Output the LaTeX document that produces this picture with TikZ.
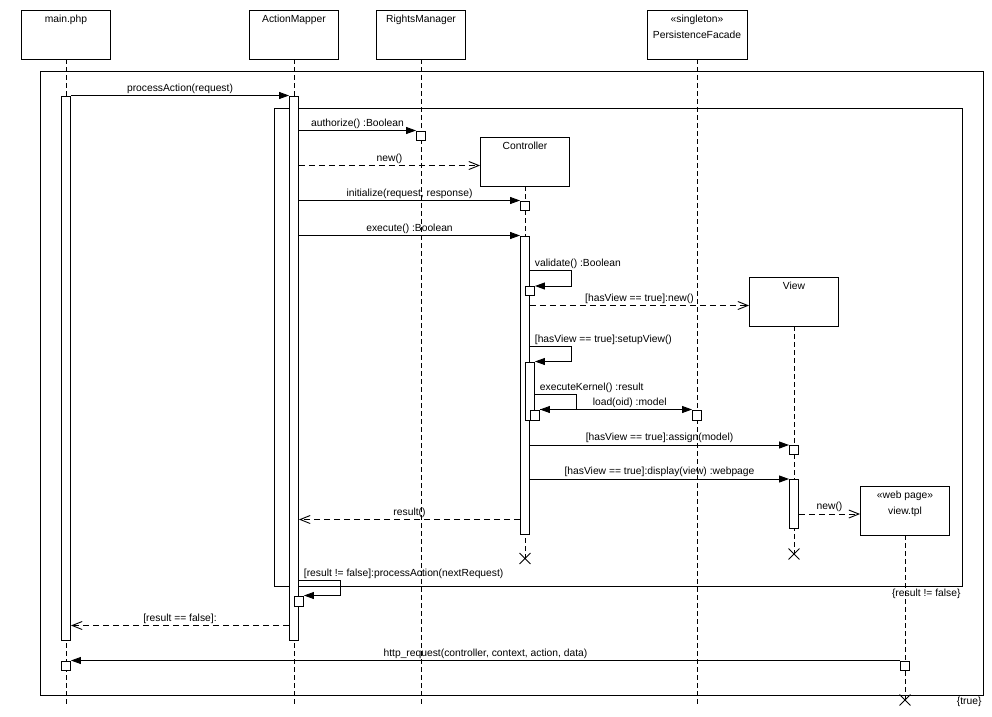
\documentclass[tikz,border=0pt]{standalone}
\usepackage{fontspec}
\setmainfont{Liberation Sans}
\usetikzlibrary{arrows.meta,shapes.misc}
\begin{document}
\begin{tikzpicture}[x=1pt,y=-1pt, line width=0.9pt, font=\fontsize{10.3}{12}\selectfont,
  head/.style={draw, fill=white, minimum width=89pt, minimum height=49pt, inner sep=0},
  hl/.style={anchor=base, inner sep=0},
  act/.style={draw, fill=white, minimum width=9pt, inner sep=0, anchor=north},
  life/.style={dash pattern=on 5pt off 3pt},
  msg/.style={-{Triangle[length=10pt,width=7pt]}},
  ret/.style={dash pattern=on 6pt off 4pt, -{Straight Barb[length=10pt,width=8pt]}},
  ml/.style={midway, anchor=base, yshift=4.5pt, inner sep=0},
  sl/.style={pos=0, anchor=base west, xshift=4.5pt, yshift=4pt, inner sep=0},
  kill/.style={draw, cross out, minimum size=10pt, inner sep=0},
  frm/.style={draw, inner sep=0, anchor=north west},
  flbl/.style={anchor=north east, inner sep=1.5pt}]
\useasboundingbox (0,0) rectangle (992,716);
% frames
\node[frm, minimum width=943pt, minimum height=624pt] (outerF) at (39.5,70.5) {};
\node[frm, minimum width=688pt, minimum height=478.5pt] (innerF) at (273.5,107.5) {};
\node[flbl] (innerL) at (innerF.south east) {\{result != false\}};
\node[flbl] (outerL) at (outerF.south east) {\{true\}};
% heads
\node[head] (main) at (66,34.5) {};
\node[hl] (mainT) at ([yshift=-13pt]main.north) {main.php};
\node[head] (am) at (294,34.5) {};
\node[hl] (amT) at ([yshift=-13pt]am.north) {ActionMapper};
\node[head] (rm) at (421,34.5) {};
\node[hl] (rmT) at ([yshift=-13pt]rm.north) {RightsManager};
\node[head, minimum width=100pt] (pf) at (697,34.5) {};
\node[hl] (pfS) at ([yshift=-13pt]pf.north) {«singleton»};
\node[hl] (pfT) at ([yshift=-29pt]pf.north) {PersistenceFacade};
\node[head] (ctl) at (525,161.5) {};
\node[hl] (ctlT) at ([yshift=-13pt]ctl.north) {Controller};
\node[head] (view) at (794,301.5) {};
\node[hl] (viewT) at ([yshift=-13pt]view.north) {View};
\node[head] (tpl) at (905,510.5) {};
\node[hl] (tplS) at ([yshift=-13pt]tpl.north) {«web page»};
\node[hl] (tplT) at ([yshift=-29pt]tpl.north) {view.tpl};
% ends
\coordinate (mainEnd) at (66,705);
\coordinate (amEnd) at (294,705);
\coordinate (rmEnd) at (421,705);
\coordinate (pfEnd) at (697,705);
\node[kill] (ctlX) at (525,558.5) {};
\node[kill] (viewX) at (794,554) {};
\node[kill] (tplX) at (905,700) {};
% lifelines
\draw[life] (main.south) -- (mainEnd);
\draw[life] (am.south) -- (amEnd);
\draw[life] (rm.south) -- (rmEnd);
\draw[life] (pf.south) -- (pfEnd);
\draw[life] (ctl.south) -- (ctlX.center);
\draw[life] (view.south) -- (viewX.center);
\draw[life] (tpl.south) -- (tplX.center);
% activations
\node[act, minimum height=544pt] (mainBar) at (66,95.5) {};
\node[act, minimum height=9pt] (mainBox2) at (66,660.5) {};
\node[act, minimum height=544pt] (amBar) at (294,95.5) {};
\node[act, minimum height=10pt] (amBox2) at (299,595.5) {};
\node[act, minimum height=9pt] (rmBox) at (421,130.5) {};
\node[act, minimum height=9.5pt] (ctlBox1) at (525,200.5) {};
\node[act, minimum height=298pt] (ctlBar) at (525,235.5) {};
\node[act, minimum height=9pt] (ctlBox2) at (530,286) {};
\node[act, minimum height=58pt] (ctlBar2) at (530,361.5) {};
\node[act, minimum height=10pt] (ctlBox3) at (535,409.5) {};
\node[act, minimum height=10pt] (pfBox) at (697,409.5) {};
\node[act, minimum height=8.5pt] (viewBox1) at (794,445) {};
\node[act, minimum height=49pt] (viewBar) at (794,479) {};
\node[act, minimum height=9pt] (tplBox) at (905,660.5) {};
% messages
\draw[msg] (mainBar.north east) -- node[ml]{processAction(request)} (amBar.north west);
\draw[msg] (amBar.east |- rmBox.north) -- node[ml]{authorize() :Boolean} (rmBox.north west);
\coordinate (c1) at ([yshift=-4pt]ctl.west);
\draw[ret] (amBar.east |- c1) -- node[ml]{new()} (c1);
\draw[msg] (amBar.east |- ctlBox1.north) -- node[ml]{initialize(request, response)} (ctlBox1.north west);
\draw[msg] (amBar.east |- ctlBar.north) -- node[ml]{execute() :Boolean} (ctlBar.north west);
\draw[msg] (ctlBar.east |- 0,270.5) -| node[sl]{validate() :Boolean} ([xshift=36pt]ctlBox2.north east) -- (ctlBox2.north east);
\coordinate (c2) at ([yshift=-4pt]view.west);
\draw[ret] (ctlBar.east |- c2) -- node[ml]{[hasView == true]:new()} (c2);
\draw[msg] (ctlBar.east |- 0,346.5) -| node[sl]{[hasView == true]:setupView()} ([xshift=36pt]ctlBar2.north east) -- (ctlBar2.north east);
\draw[msg] (ctlBar2.east |- 0,394.5) -| node[sl]{executeKernel() :result} ([xshift=36pt]ctlBox3.north east) -- (ctlBox3.north east);
\draw[msg] (ctlBox3.north east) -- node[ml, pos=0.59]{load(oid) :model} (pfBox.north west);
\draw[msg] (ctlBar.east |- viewBox1.north) -- node[ml]{[hasView == true]:assign(model)} (viewBox1.north west);
\draw[msg] (ctlBar.east |- viewBar.north) -- node[ml]{[hasView == true]:display(view) :webpage} (viewBar.north west);
\coordinate (c3) at ([yshift=-3.5pt]tpl.west);
\draw[ret] (viewBar.east |- c3) -- node[ml]{new()} (c3);
\coordinate (r1) at (ctlBar.west |- 0,519.5);
\draw[ret] (r1) -- node[ml]{result()} (amBar.east |- r1);
\draw[msg] (amBar.east |- 0,580.5) -| node[sl]{[result != false]:processAction(nextRequest)} ([xshift=36pt]amBox2.north east) -- (amBox2.north east);
\coordinate (r2) at (amBar.west |- 0,625.5);
\draw[ret] (r2) -- node[ml]{[result == false]:} (mainBar.east |- r2);
\draw[msg] (tplBox.north west) -- node[ml]{http\_request(controller, context, action, data)} (mainBox2.north east);
\end{tikzpicture}
\end{document}
